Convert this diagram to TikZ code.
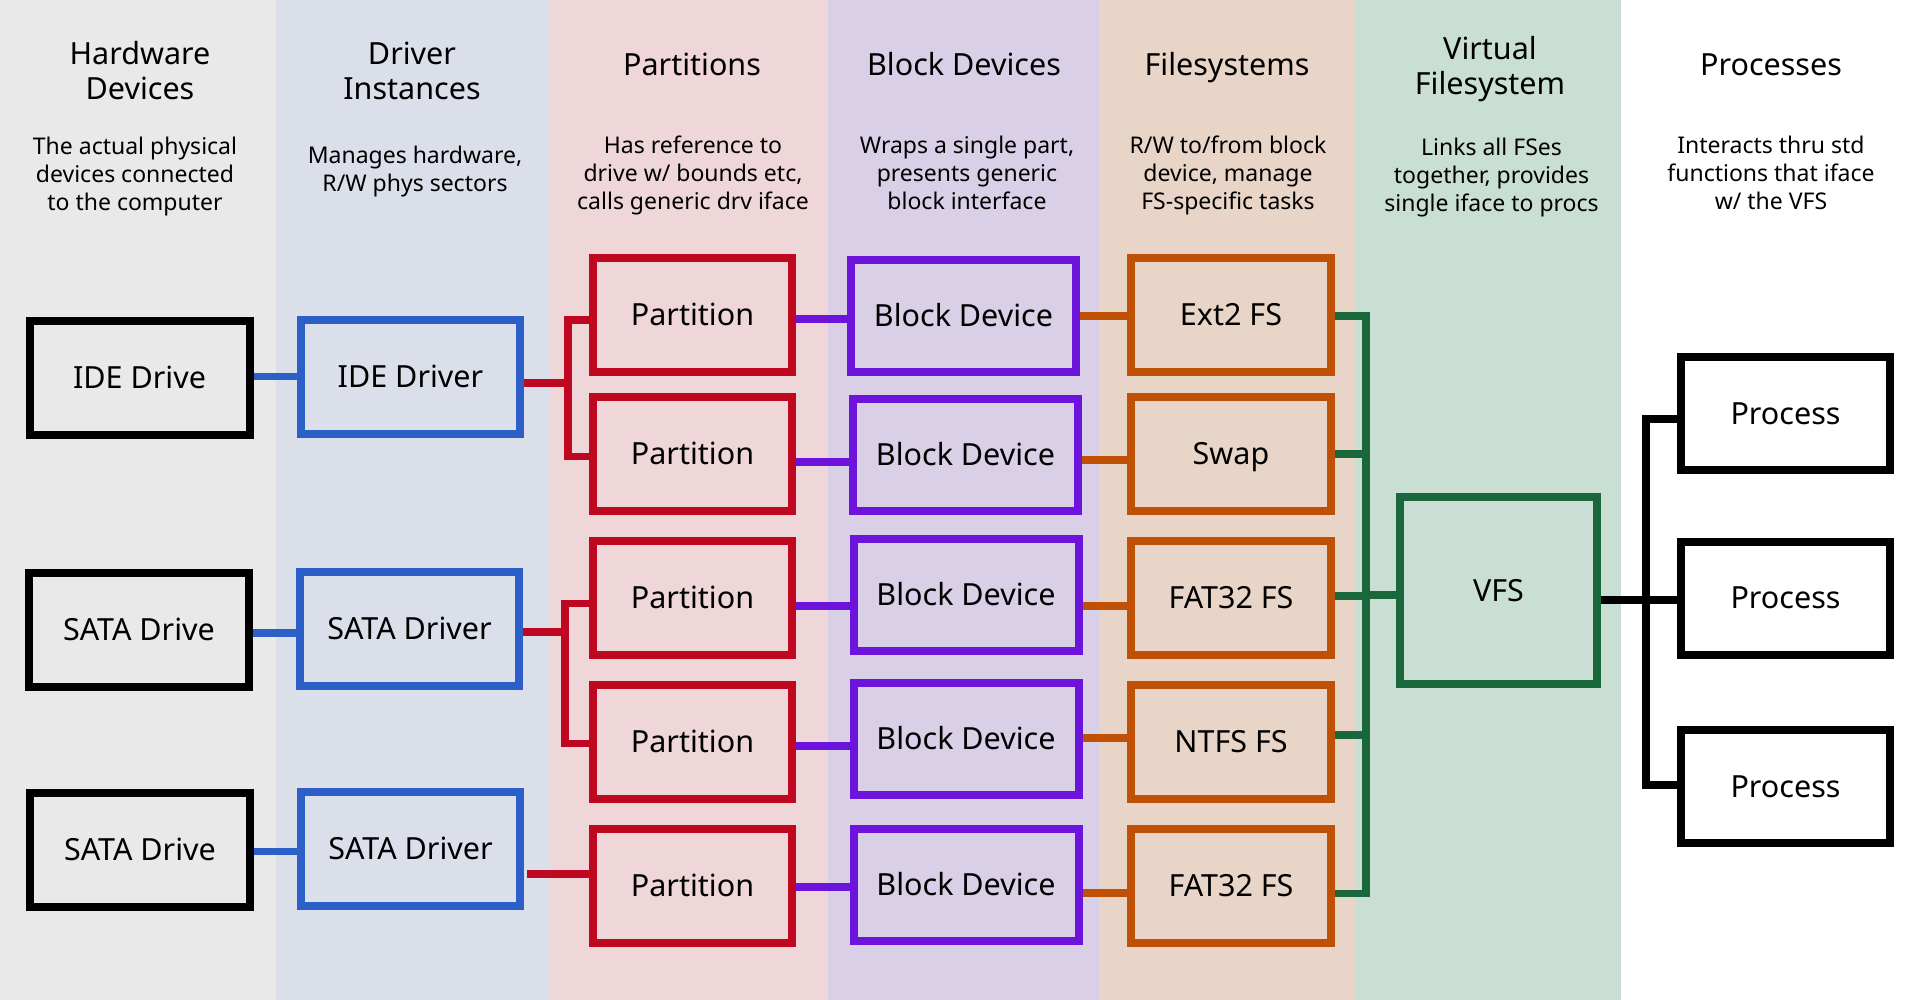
\documentclass[tikz,border=0pt]{standalone}
\usepackage{fontspec}
\setmainfont{Noto Sans}
\definecolor{bgHW}{HTML}{E9E9E9}
\definecolor{bgDrv}{HTML}{DBDFE9}
\definecolor{bgPart}{HTML}{EFD6D9}
\definecolor{bgBlk}{HTML}{D9CFE6}
\definecolor{bgFS}{HTML}{E8D5C7}
\definecolor{bgVFS}{HTML}{CADFD3}
\definecolor{cBlue}{HTML}{2C60C8}
\definecolor{cRed}{HTML}{BE0820}
\definecolor{cPurple}{HTML}{6D14DC}
\definecolor{cOrange}{HTML}{BF5006}
\definecolor{cGreen}{HTML}{1B673C}
\begin{document}
\begin{tikzpicture}[x=1pt,y=-1pt,
  box/.style={draw, line width=8pt, inner sep=0pt, font=\fontsize{30.5}{36}\selectfont, text height=21.8pt, text depth=0pt},
  hw/.style={box, draw=black, minimum width=220pt, minimum height=114pt},
  drv/.style={box, draw=cBlue, minimum width=219pt, minimum height=114pt},
  part/.style={box, draw=cRed, minimum width=199pt, minimum height=114pt},
  bdev/.style={box, draw=cPurple, minimum width=225pt, minimum height=112pt},
  fsys/.style={box, draw=cOrange, minimum width=199.5pt, minimum height=114pt},
  vfsbox/.style={box, draw=cGreen, minimum width=197pt, minimum height=187pt},
  proc/.style={box, draw=black, minimum width=209pt, minimum height=113pt},
  conn/.style={line width=7.6pt},
  title/.style={font=\fontsize{30.5}{35}\selectfont, align=center, anchor=base, inner sep=0pt},
  desc/.style={font=\fontsize{23}{28}\selectfont, align=center, anchor=base, inner sep=0pt}
]
\useasboundingbox (0,0) rectangle (1917,1000);
% column backgrounds
\fill[white] (0,0) rectangle (1917,1000);
\fill[bgHW] (0,0) rectangle (276,1000);
\fill[bgDrv] (276,0) rectangle (550,1000);
\fill[bgPart] (550,0) rectangle (828,1000);
\fill[bgBlk] (828,0) rectangle (1099,1000);
\fill[bgFS] (1099,0) rectangle (1356,1000);
\fill[bgVFS] (1356,0) rectangle (1621,1000);

% titles (base = baseline of last line)
\node[title] (t1) at (140,100) {Hardware\\Devices};
\node[title] (t2) at (412,100) {Driver\\Instances};
\node[title] (t3) at (692,76) {Partitions};
\node[title] (t4) at (964,76) {Block Devices};
\node[title] (t5) at (1227,76) {Filesystems};
\node[title] (t6) at (1490,95) {Virtual\\Filesystem};
\node[title] (t7) at (1771,76) {Processes};

% descriptions (base = baseline of last line)
\node[desc] (d1) at (135,211) {The actual physical\\devices connected\\to the computer};
\node[desc] (d2) at (415,191.5) {Manages hardware,\\R/W phys sectors};
\node[desc] (d3) at (693,209.3) {Has reference to\\drive w/ bounds etc,\\calls generic drv iface};
\node[desc] (d4) at (967,209.3) {Wraps a single part,\\presents generic\\block interface};
\node[desc] (d5) at (1228,210) {R/W to/from block\\device, manage\\FS-specific tasks};
\node[desc] (d6) at (1491.5,212) {Links all FSes\\together, provides\\single iface to procs};
\node[desc] (d7) at (1771,210) {Interacts thru std\\functions that iface\\w/ the VFS};

% hardware
\node[hw] (ide) at (139.6,378) {IDE Drive};
\node[hw] (sataA) at (139,630) {SATA Drive};
\node[hw] (sataB) at (140,850) {SATA Drive};
% drivers
\node[drv] (idedrv) at (410.5,377) {IDE Driver};
\node[drv] (satadrvA) at (409.5,629) {SATA Driver};
\node[drv] (satadrvB) at (410.5,849) {SATA Driver};
% partitions
\node[part] (p1) at (692.5,315) {Partition};
\node[part] (p2) at (692.5,454) {Partition};
\node[part] (p3) at (692.5,598) {Partition};
\node[part] (p4) at (692.5,742) {Partition};
\node[part] (p5) at (692.5,886) {Partition};
% block devices
\node[bdev] (b1) at (963.5,316) {Block Device};
\node[bdev] (b2) at (965.5,455) {Block Device};
\node[bdev] (b3) at (966,595) {Block Device};
\node[bdev] (b4) at (966,739) {Block Device};
\node[bdev] (b5) at (966,885) {Block Device};
% filesystems
\node[fsys] (f1) at (1231,315) {Ext2 FS};
\node[fsys] (f2) at (1231,454) {Swap};
\node[fsys] (f3) at (1231,598) {FAT32 FS};
\node[fsys] (f4) at (1231,742) {NTFS FS};
\node[fsys] (f5) at (1231,886) {FAT32 FS};
% vfs
\node[vfsbox] (vfs) at (1498.5,590.5) {VFS};
% processes
\node[proc] (pr1) at (1785.5,413.5) {Process};
\node[proc] (pr2) at (1785.5,598) {Process};
\node[proc] (pr3) at (1785.5,786.5) {Process};

% bus coordinates
\coordinate (rbusA) at ([xshift=-21.3]p1.west);
\coordinate (rbusB) at ([xshift=-24]p3.west);
\coordinate (gbus) at ([xshift=31.5]f1.east);
\coordinate (kbus) at ([xshift=-31]pr1.west);

% blue: drive -> driver
\draw[conn, cBlue] ([yshift=1.5]ide.east) -- ([yshift=1.5]ide.east -| idedrv.west);
\draw[conn, cBlue] ([yshift=-3]sataA.east) -- ([yshift=-3]sataA.east -| satadrvA.west);
\draw[conn, cBlue] ([yshift=-1.5]sataB.east) -- ([yshift=-1.5]sataB.east -| satadrvB.west);

% red: driver -> partitions
\draw[conn, cRed] ([yshift=-5]p1.west) -| ([yshift=-2.3]p2.west -| rbusA) -- ([yshift=-2.3]p2.west);
\draw[conn, cRed] ([yshift=-6]idedrv.east) -- ([yshift=-6]idedrv.east -| rbusA);
\draw[conn, cRed] ([yshift=-5.5]p3.west) -| ([yshift=-1.5]p4.west -| rbusB) -- ([yshift=-1.5]p4.west);
\draw[conn, cRed] ([yshift=-3]satadrvA.east) -- ([yshift=-3]satadrvA.east -| rbusB);
\draw[conn, cRed] ([xshift=3,yshift=-25]satadrvB.east) -- ([yshift=-25]satadrvB.east -| p5.west);

% purple: partition -> block device
\draw[conn, cPurple] ([yshift=-4]p1.east) -- ([yshift=-4]p1.east -| b1.west);
\draw[conn, cPurple] ([yshift=-7.7]p2.east) -- ([yshift=-7.7]p2.east -| b2.west);
\draw[conn, cPurple] ([yshift=-8]p3.east) -- ([yshift=-8]p3.east -| b3.west);
\draw[conn, cPurple] ([yshift=-4]p4.east) -- ([yshift=-4]p4.east -| b4.west);
\draw[conn, cPurple] ([yshift=-1]p5.east) -- ([yshift=-1]p5.east -| b5.west);

% orange: block device -> filesystem
\draw[conn, cOrange] (b1.east) -- (b1.east -| f1.west);
\draw[conn, cOrange] ([yshift=-5]b2.east) -- ([yshift=-5]b2.east -| f2.west);
\draw[conn, cOrange] ([yshift=-11]b3.east) -- ([yshift=-11]b3.east -| f3.west);
\draw[conn, cOrange] ([yshift=1]b4.east) -- ([yshift=1]b4.east -| f4.west);
\draw[conn, cOrange] ([yshift=-8]b5.east) -- ([yshift=-8]b5.east -| f5.west);

% green: filesystems -> VFS
\draw[conn, cGreen] ([yshift=-0.8]f1.east) -| ([yshift=-7.5]f5.east -| gbus) -- ([yshift=-7.5]f5.east);
\draw[conn, cGreen] (f2.east) -- (f2.east -| gbus);
\draw[conn, cGreen] ([yshift=2]f3.east) -- ([yshift=2]f3.east -| gbus);
\draw[conn, cGreen] ([yshift=7]f4.east) -- ([yshift=7]f4.east -| gbus);
\draw[conn, cGreen] ([yshift=-4.5]vfs.west) -- ([yshift=-4.5]vfs.west -| gbus);

% black: VFS -> processes
\draw[conn, black] ([yshift=-5.5]pr1.west) -| ([yshift=1.5]pr3.west -| kbus) -- ([yshift=1.5]pr3.west);
\draw[conn, black, line width=8.3pt] ([yshift=-9.5]vfs.east) -- ([yshift=-9.5]vfs.east -| pr2.west);
\end{tikzpicture}
\end{document}
